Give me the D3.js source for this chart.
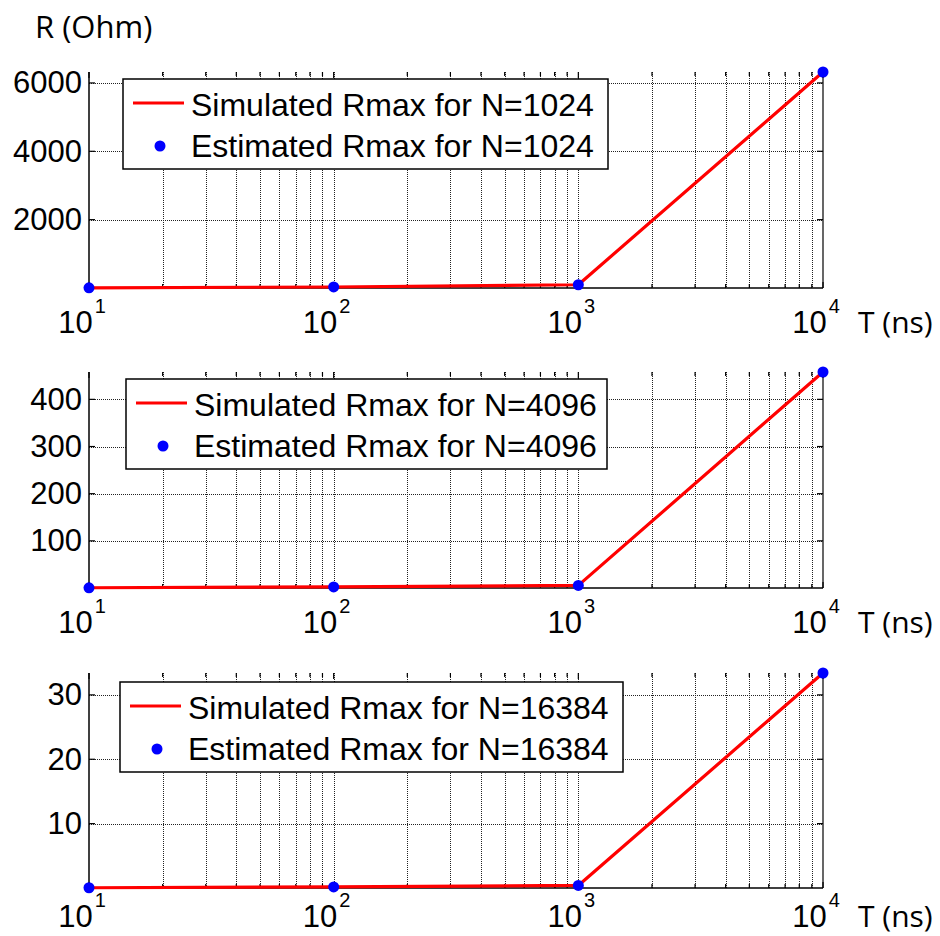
<!DOCTYPE html>
<html>
<head>
<meta charset="utf-8">
<script src="https://cdn.jsdelivr.net/npm/d3@7"></script>
<style>
  html, body { margin: 0; padding: 0; background: #fff; }
  svg { display: block; }
</style>
</head>
<body>
<svg id="chart" width="940" height="936"></svg>
<script>
// ---- data ----
const T = [10, 100, 1000, 10000];                 // ns
const N_values = [1024, 4096, 16384];
const R_N1024 = [6, 30, 95, 6320];                // Ohm
const R_N4096 = [0.5, 2.2, 5.5, 458];
const R_N16384 = [0.04, 0.16, 0.4, 33.4];
const yTicks_N1024 = [2000, 4000, 6000];
const yTicks_N4096 = [100, 200, 300, 400];
const yTicks_N16384 = [10, 20, 30];
const xMajorTicks = [10, 100, 1000, 10000];
const xTickExponents = ["1", "2", "3", "4"];
const yLabel = "R (Ohm)";
const xLabel = "T (ns)";

const series = [
  { N: N_values[0], R: R_N1024, yTicks: yTicks_N1024 },
  { N: N_values[1], R: R_N4096, yTicks: yTicks_N4096 },
  { N: N_values[2], R: R_N16384, yTicks: yTicks_N16384 }
];

// ---- layout ----
const left = 89, right = 823;
const panels = [
  { top: 72, bottom: 288, legend: { x: 123, y: 79, w: 485 } },
  { top: 372, bottom: 588, legend: { x: 126, y: 379, w: 481 } },
  { top: 673, bottom: 888, legend: { x: 120, y: 682, w: 503 } }
];
const FONT = "'Liberation Sans', Arial, sans-serif";
const FONT2 = "'Open Sans', 'Noto Sans', sans-serif";

const svg = d3.select("#chart");
const x = d3.scaleLog().domain([T[0], T[T.length - 1]]).range([left, right]);

// minor x positions (2..9 per decade) plus majors
const gridX = [];
for (let d = 10; d < 10000; d *= 10) {
  for (let k = 1; k <= 9; k++) gridX.push(d * k);
}
gridX.push(10000);

series.forEach((s, i) => {
  const p = panels[i];
  const g = svg.append("g");
  const y = d3.scaleLinear().domain([0, d3.max(s.R)]).range([p.bottom, p.top]);
  const labelY = Math.min(p.bottom + 45, 927);

  // grid: vertical
  g.append("g").attr("shape-rendering", "crispEdges")
    .selectAll("line").data(gridX.filter(v => v > 10 && v < 10000)).join("line")
    .attr("x1", d => Math.round(x(d)) + 0.5).attr("x2", d => Math.round(x(d)) + 0.5)
    .attr("y1", p.top).attr("y2", p.bottom)
    .attr("stroke", "#222").attr("stroke-width", 1).attr("stroke-dasharray", "1,1");
  // grid: horizontal
  g.append("g").attr("shape-rendering", "crispEdges")
    .selectAll("line").data(s.yTicks).join("line")
    .attr("x1", left).attr("x2", right)
    .attr("y1", d => Math.round(y(d)) + 0.5).attr("y2", d => Math.round(y(d)) + 0.5)
    .attr("stroke", "#222").attr("stroke-width", 1).attr("stroke-dasharray", "1,1");

  // ticks top & bottom (inward)
  const tk = g.append("g").attr("stroke", "#000").attr("stroke-width", 1.2);
  gridX.forEach(v => {
    const len = (xMajorTicks.includes(v)) ? 6 : 4;
    tk.append("line").attr("x1", x(v)).attr("x2", x(v)).attr("y1", p.bottom).attr("y2", p.bottom - len);
    tk.append("line").attr("x1", x(v)).attr("x2", x(v)).attr("y1", p.top).attr("y2", p.top + len);
  });
  s.yTicks.forEach(v => {
    tk.append("line").attr("x1", left).attr("x2", left + 6).attr("y1", y(v)).attr("y2", y(v));
    tk.append("line").attr("x1", right).attr("x2", right - 6).attr("y1", y(v)).attr("y2", y(v));
  });

  // axes lines
  g.append("line").attr("x1", left).attr("x2", left).attr("y1", p.top).attr("y2", p.bottom)
    .attr("stroke", "#000").attr("stroke-width", 1.5);
  g.append("line").attr("x1", left).attr("x2", right).attr("y1", p.bottom).attr("y2", p.bottom)
    .attr("stroke", "#000").attr("stroke-width", 1.5);
  g.append("line").attr("x1", right).attr("x2", right).attr("y1", p.top).attr("y2", p.bottom)
    .attr("stroke", "#000").attr("stroke-width", 1.2);

  // y tick labels
  g.append("g").selectAll("text").data(s.yTicks).join("text")
    .attr("x", left - 7).attr("y", d => y(d))
    .attr("text-anchor", "end").attr("dominant-baseline", "central")
    .attr("font-family", FONT).attr("font-size", 31).attr("fill", "#000")
    .text(d => d);

  // x tick labels 10^k
  xMajorTicks.forEach((v, k) => {
    const t = g.append("text")
      .attr("x", x(v) - 7).attr("y", labelY)
      .attr("text-anchor", "middle")
      .attr("font-family", FONT).attr("font-size", 31).attr("fill", "#000");
    t.append("tspan").text("10");
    t.append("tspan").attr("dy", -20).attr("font-size", 20).attr("dx", 2).text(xTickExponents[k]);
  });
  g.append("text").attr("x", 858).attr("y", labelY)
    .attr("font-family", FONT2).attr("font-size", 30).attr("fill", "#000").text(xLabel);

  // line
  const line = d3.line().x((d, j) => x(T[j])).y(d => y(d));
  g.append("path").datum(s.R).attr("d", line)
    .attr("fill", "none").attr("stroke", "#ff0000").attr("stroke-width", 3.2)
    .attr("stroke-linejoin", "round");
  // points
  g.append("g").selectAll("circle").data(s.R).join("circle")
    .attr("cx", (d, j) => x(T[j])).attr("cy", d => y(d)).attr("r", 5.5)
    .attr("fill", "#0000ff");

  // legend
  const L = p.legend;
  const lg = g.append("g");
  lg.append("rect").attr("x", L.x).attr("y", L.y).attr("width", L.w).attr("height", 90)
    .attr("fill", "#fff").attr("stroke", "#000").attr("stroke-width", 1.5);
  lg.append("line").attr("x1", L.x + 10).attr("x2", L.x + 61)
    .attr("y1", L.y + 24).attr("y2", L.y + 24)
    .attr("stroke", "#ff0000").attr("stroke-width", 3.2);
  lg.append("circle").attr("cx", L.x + 37).attr("cy", L.y + 67).attr("r", 5.5).attr("fill", "#0000ff");
  lg.append("text").attr("x", L.x + 68).attr("y", L.y + 37)
    .attr("font-family", FONT).attr("font-size", 32).attr("fill", "#000")
    .text("Simulated Rmax for N=" + s.N);
  lg.append("text").attr("x", L.x + 68).attr("y", L.y + 78)
    .attr("font-family", FONT).attr("font-size", 32).attr("fill", "#000")
    .text("Estimated Rmax for N=" + s.N);
});

// y label
svg.append("text").attr("x", 35).attr("y", 38)
  .attr("font-family", FONT2).attr("font-size", 31).attr("fill", "#000").text(yLabel);
</script>
</body>
</html>
